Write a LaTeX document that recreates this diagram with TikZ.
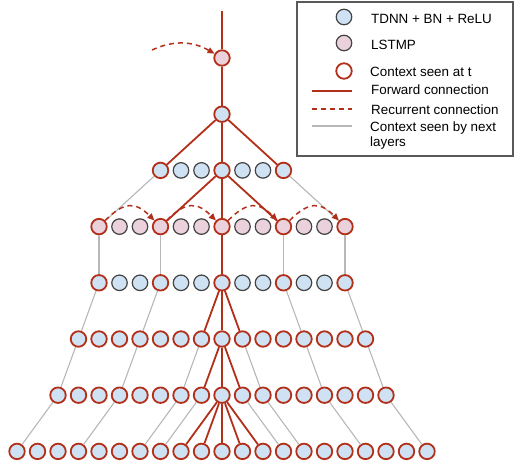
\documentclass[tikz,border=0pt]{standalone}
\usepackage{fontspec}
\setmainfont{Liberation Sans}
\usetikzlibrary{arrows.meta}

\definecolor{ctxred}{HTML}{B2301A}
\definecolor{tdnnblue}{HTML}{CFE2F3}
\definecolor{lstmpink}{HTML}{EAD1DC}
\definecolor{unitgray}{HTML}{434343}
\definecolor{nextgray}{HTML}{B7B7B7}
\definecolor{framegray}{HTML}{595959}

\begin{document}
\begin{tikzpicture}[x=1pt,y=1pt,
    unit/.style={circle,draw=unitgray,line width=1.2pt,minimum size=15.5pt,inner sep=0pt},
    tdnn/.style={unit,fill=tdnnblue},
    lstmp/.style={unit,fill=lstmpink},
    seen/.style={draw=ctxred,line width=1.8pt},
    fwd/.style={ctxred,line width=1.8pt},
    recur/.style={ctxred,line width=1.5pt,dash pattern=on 5pt off 4pt,-{Triangle[length=7pt,width=6pt]}},
    nextctx/.style={nextgray,line width=1.1pt},
    lbl/.style={anchor=base west,inner sep=0pt,align=left,font=\fontsize{13.4}{15}\selectfont}]
    \useasboundingbox (0,0) rectangle (515,-461);

    \node[lstmp,seen] (r1-10) at (222,-58) {};
    \node[tdnn,seen] (r2-10) at (222,-114.2) {};
    \foreach \c in {8,9,11,12} \node[tdnn] (r3-\c) at (17+20.5*\c,-170.4) {};
    \foreach \c in {7,10,13} \node[tdnn,seen] (r3-\c) at (17+20.5*\c,-170.4) {};
    \foreach \c in {5,6,8,9,11,12,14,15} \node[lstmp] (r4-\c) at (17+20.5*\c,-226.6) {};
    \foreach \c in {4,7,10,13,16} \node[lstmp,seen] (r4-\c) at (17+20.5*\c,-226.6) {};
    \foreach \c in {5,6,8,9,11,12,14,15} \node[tdnn] (r5-\c) at (17+20.5*\c,-282.8) {};
    \foreach \c in {4,7,10,13,16} \node[tdnn,seen] (r5-\c) at (17+20.5*\c,-282.8) {};
    \foreach \r/\y/\lo/\hi in {6/-339/3/17,7/-395.2/2/18,8/-451.4/0/20}
        \foreach \c in {\lo,...,\hi} \node[tdnn,seen] (r\r-\c) at (17+20.5*\c,\y) {};

    \coordinate (toptail) at (222,-10.7);
    \coordinate (recin) at (152,-50);
    \draw[fwd] (toptail) -- (r1-10) -- (r2-10);
    \draw[recur] (recin) to[out=25,in=150] (r1-10);

    \foreach \c in {7,10,13} \draw[fwd] (r2-10) -- (r3-\c);
    \foreach \c in {7,10,13} \draw[fwd] (r3-10) -- (r4-\c);
    \draw[nextctx] (r3-7) -- (r4-4);
    \draw[nextctx] (r3-13) -- (r4-16);
    \foreach \a/\b in {4/7,7/10,10/13,13/16}
        \draw[recur] (r4-\a) to[out=45,in=135,looseness=1.4] (r4-\b);

    \foreach \c in {4,7,13,16} \draw[nextctx] (r4-\c) -- (r5-\c);
    \draw[fwd] (r4-10) -- (r5-10);

    \foreach \a/\b in {4/3,7/6,13/14,16/17} \draw[nextctx] (r5-\a) -- (r6-\b);
    \foreach \c in {9,10,11} \draw[fwd] (r5-10) -- (r6-\c);

    \foreach \a/\b in {3/2,6/5,9/8,11/12,14/15,17/18} \draw[nextctx] (r6-\a) -- (r7-\b);
    \foreach \c in {9,10,11} \draw[fwd] (r6-10) -- (r7-\c);

    \foreach \a/\b in {2/0,5/3,8/6,9/7,11/13,12/14,15/17,18/20} \draw[nextctx] (r7-\a) -- (r8-\b);
    \foreach \c in {8,...,12} \draw[fwd] (r7-10) -- (r8-\c);

    \draw[framegray,line width=1.2pt] (297,-2) rectangle (513,-156);
    \node[tdnn] (keytdnn) at (344,-17) {};
    \node[lstmp] (keylstmp) at (344,-43) {};
    \node[unit,seen,fill=white] (keyseen) at (344,-71) {};
    \coordinate (fwda) at (312,-91);
    \coordinate (fwdb) at (352,-91);
    \coordinate (reca) at (312,-109);
    \coordinate (recb) at (352,-109);
    \coordinate (nexta) at (312,-126);
    \coordinate (nextb) at (352,-126);
    \draw[fwd] (fwda) -- (fwdb);
    \draw[recur,-] (reca) -- (recb);
    \draw[nextctx] (nexta) -- (nextb);
    \node[lbl] (keytdnntext) at (371,-23.3) {TDNN + BN + ReLU};
    \node[lbl] (keylstmptext) at (371,-49.3) {LSTMP};
    \node[lbl] (keyseentext) at (370,-76) {Context seen at t};
    \node[lbl] (fwdtext) at (371,-94.3) {Forward connection};
    \node[lbl] (rectext) at (371,-114) {Recurrent connection};
    \node[lbl] (nexttext) at (370,-146.7) {Context seen by next\\layers};
\end{tikzpicture}
\end{document}
